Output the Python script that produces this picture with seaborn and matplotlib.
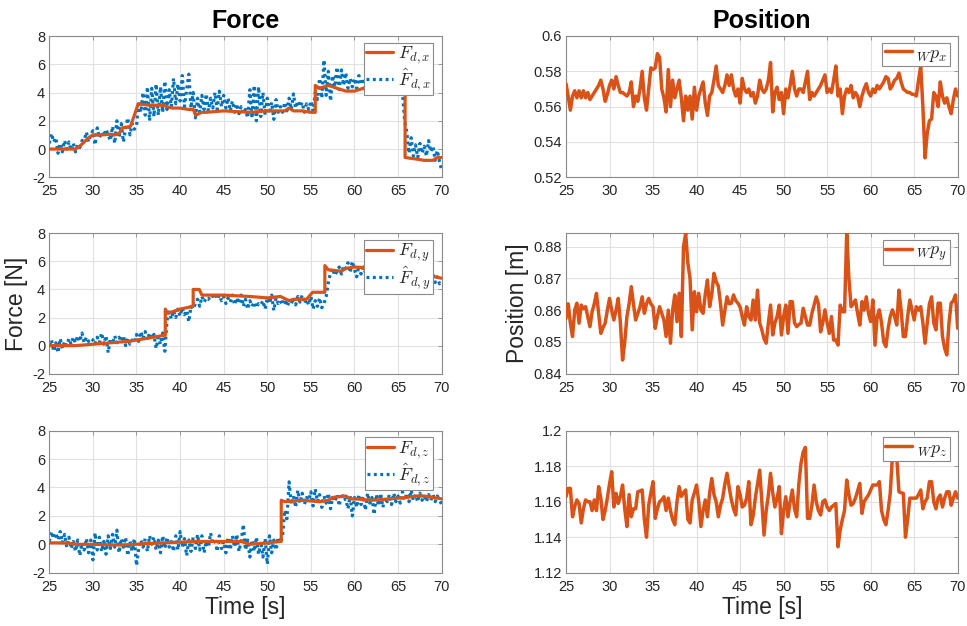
import numpy as np
import pandas as pd
import matplotlib
matplotlib.use("Agg")
import matplotlib.pyplot as plt
import seaborn as sns
from matplotlib.ticker import FuncFormatter

# ---------------- data ----------------
T_START = 25.0
T_STEP = 0.25  # sampling of the read-off noisy / position series

fx_hat = [0.4, 1.1, 0.5, 0.8, -0.3, 0.4, -0.2, 0.6, 0.0, 0.5, -0.1, 0.4,
          -0.2, 0.3, 0.1, 0.6, 0.6, 1.2, 0.5, 1.0, 1.3, 0.3, 1.5, 0.8,
          1.2, 0.9, 1.4, 1.0, 0.6, 1.6, 0.4, 2.0, 0.8, 1.8, 0.5, 1.5,
          2.2, 1.0, 1.8, 1.4, 1.6, 3.4, 2.6, 4.0, 2.4, 4.4, 2.0, 4.3,
          2.3, 4.6, 2.4, 4.4, 2.6, 4.8, 2.8, 4.2, 3.0, 5.0, 3.2, 4.6,
          3.4, 5.2, 3.0, 4.2, 5.3, 2.9, 4.0, 2.2, 3.6, 2.6, 3.8, 2.8,
          3.9, 2.7, 3.6, 2.9, 4.0, 2.8, 4.1, 3.0, 3.8, 2.9, 3.6, 2.7,
          3.4, 2.6, 3.2, 2.5, 3.0, 2.5, 2.8, 2.2, 4.2, 2.2, 4.5, 2.0,
          4.4, 2.3, 4.0, 2.4, 3.6, 2.5, 3.3, 2.1, 3.5, 2.6, 3.0, 2.6,
          3.3, 2.7, 3.6, 2.8, 3.9, 2.9, 3.4, 3.0, 3.3, 2.6, 3.2, 2.8,
          3.4, 2.7, 4.0, 3.5, 5.0, 3.6, 6.3, 3.8, 5.5, 3.4, 5.2, 4.4,
          5.8, 4.2, 5.6, 4.5, 5.4, 4.3, 5.0, 4.4, 5.0, 4.3, 5.2, 4.6,
          4.8, 4.2, 4.7, 4.3, 4.6, 4.1, 4.5, 4.2, 4.3, 4.0, 4.3, 4.0,
          4.2, 4.0, 4.2, 4.0, 4.1, 4.0, 4.0, 2.0, 1.2, -0.3, 0.8, -0.5,
          0.3, -0.6, 0.4, -0.3, 0.2, -0.5, 0.6, -0.2, 0.2, -0.8, -0.1, -0.9,
          -1.5]

fy_hat = [0.0, 0.4, -0.4, 0.2, -0.5, 0.5, -0.2, 0.3, 0.0, 0.5, 0.1, 0.6,
          0.2, 0.7, 0.3, 0.9, 0.2, 0.6, 0.3, 0.5, 0.4, 0.1, 0.6, 0.2,
          0.9, 0.1, 0.7, -0.5, 0.5, 0.1, 0.7, 0.2, 0.6, 0.3, 0.7, 0.0,
          0.5, 0.1, 0.4, 0.2, 0.8, 0.3, 1.0, 0.5, 1.0, 0.4, 0.9, 0.5,
          0.8, -0.2, 0.6, 0.1, 0.9, -0.4, 1.8, 2.4, 1.9, 2.5, 2.0, 2.6,
          2.1, 2.7, 2.2, 2.5, 1.7, 2.8, 2.6, 3.0, 3.3, 2.8, 3.5, 3.1,
          3.4, 3.3, 3.6, 3.5, 3.7, 3.3, 3.6, 3.2, 3.5, 3.0, 3.4, 3.1,
          3.6, 2.9, 3.4, 3.0, 3.6, 2.8, 3.3, 2.6, 3.2, 2.8, 3.1, 2.7,
          3.0, 2.9, 3.2, 2.6, 3.4, 3.0, 3.6, 2.5, 3.4, 3.0, 3.2, 2.9,
          3.3, 2.8, 3.1, 3.0, 3.4, 2.9, 3.5, 3.1, 3.6, 3.0, 3.3, 2.9,
          3.5, 2.6, 3.2, 2.8, 3.4, 2.7, 3.0, 3.5, 4.5, 5.2, 5.5, 5.0,
          5.3, 5.6, 5.1, 5.7, 5.5, 5.9, 5.2, 6.0, 5.4, 4.9, 5.7, 5.1,
          5.6, 5.2, 5.5, 5.3, 5.5, 5.2, 5.6, 5.3, 5.4, 5.1, 5.5, 5.2,
          5.3, 5.0, 5.4, 5.1, 5.2, 5.0, 5.3, 4.9, 5.1, 4.8, 5.2, 4.6,
          5.0, 4.5, 5.1, 4.4, 4.8, 4.0, 5.0, 4.3, 5.1, 4.5, 4.9, 4.4,
          4.6]

fz_hat = [0.2, 0.9, 0.4, 0.8, 0.3, 0.9, 0.1, 0.7, -0.2, 0.5, -0.3, 0.2,
          -0.5, 0.3, -0.8, 0.1, -0.4, 0.4, -0.6, 0.3, -1.1, 0.8, -0.4, 0.5,
          -0.5, 0.2, -0.7, 0.6, -0.3, 0.7, -0.2, 1.0, -0.6, 0.4, -0.2, 0.5,
          -0.8, 0.2, -0.5, 0.4, -1.5, -0.3, 0.3, -0.2, 0.4, -0.5, 0.6, 0.0,
          0.5, -0.4, 0.3, -0.6, 0.6, -0.3, 0.5, -0.2, 0.2, -0.5, 0.6, -0.4,
          0.9, -0.2, 0.4, -0.8, 0.3, -0.5, 0.5, -0.3, 0.7, -0.4, 0.6, -0.6,
          0.2, -0.2, 0.8, 0.0, 0.4, -0.5, 0.6, -0.3, 0.2, -0.6, 0.5, -0.4,
          0.6, -0.2, 0.7, -0.5, 0.2, 1.4, -0.4, 0.3, -0.9, 0.3, -0.5, 0.5,
          -0.7, 0.2, -0.9, 0.4, -1.4, 0.6, -0.6, 0.3, -0.4, 0.5, 0.1, 0.6,
          2.4, 1.8, 4.4, 2.8, 3.4, 2.6, 3.8, 2.9, 3.6, 2.8, 3.3, 3.1,
          3.7, 2.7, 3.9, 3.0, 3.5, 2.6, 3.4, 2.9, 3.6, 2.5, 3.3, 3.0,
          3.5, 2.7, 3.6, 3.1, 3.2, 2.5, 3.4, 2.0, 3.3, 2.6, 3.5, 2.8,
          3.4, 2.4, 3.6, 2.9, 3.3, 2.1, 3.5, 2.7, 3.6, 2.6, 3.3, 3.0,
          3.5, 2.8, 3.6, 3.0, 3.4, 2.9, 3.7, 3.1, 3.6, 3.0, 3.8, 3.1,
          3.5, 3.0, 3.6, 3.1, 3.4, 3.0, 3.5, 3.1, 3.5, 3.0, 3.4, 3.1,
          2.8]

# desired forces: breakpoints (time, value)
fx_t = [25, 28, 28.5, 29, 29.5, 30, 31, 32, 32.5, 33, 33.4, 34.3, 34.7, 35.2,
        36.5, 38, 39, 40, 41, 41.5, 41.8, 42.5, 43, 45, 48, 50, 52, 52.5, 53,
        54, 55, 55.5, 55.5, 56, 57, 58, 59, 60, 61, 61.5, 63, 65.8, 65.8, 67,
        68, 69, 69.5, 70]
fx_d = [0, 0, 0.2, 0.5, 0.8, 1.0, 1.0, 1.05, 1.0, 1.1, 1.5, 1.6, 2.3, 3.2,
        3.1, 3.1, 2.9, 2.9, 2.8, 2.8, 2.4, 2.6, 2.6, 2.7, 2.6, 2.7, 2.7, 2.9,
        2.7, 2.7, 2.6, 2.6, 4.5, 4.3, 4.5, 4.3, 4.1, 4.1, 4.3, 4.1, 4.0, 4.0,
        -0.6, -0.7, -0.8, -0.8, -0.6, -0.6]

fy_t = [25, 28, 31, 34, 36, 38.3, 38.3, 38.6, 40, 41.5, 41.5, 42.2, 42.5, 45,
        48, 50, 51.5, 52.5, 53, 54.5, 55.2, 56.6, 56.6, 57, 58.5, 59, 60, 62,
        66, 70]
fy_d = [0, 0, 0.15, 0.3, 0.5, 0.75, 2.6, 2.3, 2.6, 2.8, 4.0, 4.0, 3.6, 3.6,
        3.5, 3.4, 3.5, 3.2, 3.3, 3.3, 3.8, 3.8, 5.7, 5.4, 5.3, 5.5, 5.6, 5.5,
        5.3, 4.8]

fz_t = [25, 27, 28, 30, 33, 35, 36, 38, 40, 42, 45, 47, 48, 50, 51.6, 51.6,
        52, 54, 56, 57, 57.5, 59, 59.5, 60, 62, 64, 66, 67, 68, 70]
fz_d = [0.1, 0.1, 0.0, 0.0, -0.05, 0.0, 0.05, 0.1, 0.15, 0.2, 0.2, 0.2, 0.0,
        0.1, 0.2, 3.1, 3.0, 3.1, 3.0, 3.1, 3.3, 3.4, 3.2, 3.2, 3.1, 3.2, 3.3,
        3.4, 3.4, 3.2]

px = [.573, .566, .558, .566, .569, .565, .569, .565, .569, .565, .568, .564,
      .566, .568, .570, .572, .575, .570, .563, .567, .572, .575, .570, .577,
      .572, .568, .568, .567, .566, .568, .574, .560, .566, .563, .570, .580,
      .565, .558, .570, .582, .581, .582, .590, .588, .570, .565, .557, .581,
      .560, .575, .565, .570, .575, .565, .552, .566, .558, .566, .553, .571,
      .558, .566, .570, .574, .562, .555, .566, .568, .575, .583, .572, .570,
      .568, .572, .578, .572, .578, .570, .566, .570, .562, .576, .570, .568,
      .570, .566, .568, .562, .566, .575, .570, .568, .570, .575, .585, .557,
      .568, .571, .564, .568, .556, .570, .565, .572, .580, .570, .566, .570,
      .570, .568, .574, .580, .564, .568, .566, .568, .570, .572, .575, .578,
      .568, .570, .568, .575, .583, .566, .570, .556, .566, .570, .568, .572,
      .565, .568, .566, .560, .566, .570, .573, .568, .566, .570, .568, .572,
      .570, .572, .574, .577, .576, .570, .572, .575, .576, .579, .574, .570,
      .569, .568, .568, .567, .567, .566, .575, .583, .560, .531, .545, .552,
      .553, .568, .566, .560, .574, .566, .562, .565, .560, .556, .564, .570,
      .566]

py = [.8574, .8620, .8560, .8517, .8600, .8622, .8559, .8616, .8605, .8611,
      .8580, .8548, .8595, .8620, .8653, .8590, .8527, .8545, .8559, .8600,
      .8637, .8600, .8569, .8600, .8637, .8560, .8443, .8500, .8580, .8620,
      .8674, .8620, .8569, .8590, .8610, .8642, .8590, .8620, .8637, .8620,
      .8611, .8543, .8580, .8611, .8590, .8569, .8517, .8600, .8496, .8600,
      .8648, .8564, .8653, .8517, .8800, .8842, .8748, .8700, .8538, .8658,
      .8595, .8653, .8600, .8590, .8650, .8695, .8611, .8650, .8716, .8690,
      .8676, .8620, .8553, .8600, .8642, .8620, .8622, .8648, .8630, .8622,
      .8610, .8580, .8553, .8611, .8580, .8569, .8632, .8569, .8663, .8560,
      .8538, .8510, .8496, .8560, .8616, .8522, .8560, .8580, .8616, .8522,
      .8580, .8616, .8527, .8627, .8627, .8560, .8548, .8555, .8559, .8606,
      .8580, .8553, .8553, .8590, .8616, .8642, .8620, .8532, .8560, .8601,
      .8560, .8527, .8580, .8506, .8506, .8490, .8616, .8595, .8595, .8845,
      .8700, .8611, .8620, .8632, .8590, .8553, .8627, .8600, .8642, .8590,
      .8564, .8632, .8490, .8580, .8601, .8560, .8500, .8485, .8540, .8580,
      .8601, .8580, .8553, .8663, .8600, .8517, .8517, .8580, .8632, .8600,
      .8569, .8611, .8600, .8611, .8560, .8496, .8560, .8620, .8642, .8560,
      .8538, .8622, .8622, .8517, .8480, .8459, .8560, .8622, .8630, .8648,
      .8543]

pz = [1.1628, 1.1675, 1.1675, 1.1515, 1.1572, 1.1610, 1.1590, 1.1480,
      1.1560, 1.1610, 1.1600, 1.1600, 1.1550, 1.1610, 1.1550, 1.1685,
      1.1620, 1.1500, 1.1550, 1.1620, 1.1700, 1.1769, 1.1570, 1.1647,
      1.1590, 1.1630, 1.1694, 1.1560, 1.1460, 1.1640, 1.1515, 1.1560,
      1.1560, 1.1656, 1.1660, 1.1666, 1.1500, 1.1400, 1.1580, 1.1650,
      1.1713, 1.1506, 1.1560, 1.1600, 1.1610, 1.1628, 1.1550, 1.1620,
      1.1550, 1.1500, 1.1470, 1.1600, 1.1685, 1.1630, 1.1650, 1.1666,
      1.1500, 1.1480, 1.1610, 1.1650, 1.1694, 1.1600, 1.1460, 1.1550,
      1.1610, 1.1515, 1.1650, 1.1731, 1.1640, 1.1600, 1.1515, 1.1580,
      1.1620, 1.1700, 1.1760, 1.1680, 1.1610, 1.1560, 1.1525, 1.1685,
      1.1640, 1.1570, 1.1580, 1.1620, 1.1713, 1.1470, 1.1520, 1.1620,
      1.1700, 1.1778, 1.1600, 1.1412, 1.1550, 1.1638, 1.1760, 1.1650,
      1.1570, 1.1620, 1.1685, 1.1420, 1.1550, 1.1628, 1.1515, 1.1600,
      1.1666, 1.1560, 1.1515, 1.1700, 1.1816, 1.1880, 1.1906, 1.1506,
      1.1506, 1.1580, 1.1694, 1.1600, 1.1550, 1.1525, 1.1600, 1.1610,
      1.1570, 1.1550, 1.1570, 1.1580, 1.1590, 1.1346, 1.1440, 1.1500,
      1.1550, 1.1722, 1.1640, 1.1580, 1.1590, 1.1620, 1.1660, 1.1703,
      1.1534, 1.1600, 1.1620, 1.1638, 1.1666, 1.1694, 1.1694, 1.1694,
      1.1713, 1.1550, 1.1500, 1.1470, 1.1550, 1.1647, 1.1854, 1.1854,
      1.1850, 1.1656, 1.1650, 1.1647, 1.1400, 1.1500, 1.1620, 1.1620,
      1.1620, 1.1620, 1.1640, 1.1666, 1.1560, 1.1600, 1.1620, 1.1713,
      1.1713, 1.1600, 1.1560, 1.1620, 1.1638, 1.1570, 1.1620, 1.1656,
      1.1656, 1.1580, 1.1620, 1.1656, 1.1620]

x_ticks = [25, 30, 35, 40, 45, 50, 55, 60, 65, 70]
force_ticks = [-2, 0, 2, 4, 6, 8]
px_ticks = [0.52, 0.54, 0.56, 0.58, 0.60]
py_ticks = [0.84, 0.85, 0.86, 0.87, 0.88]
pz_ticks = [1.12, 1.14, 1.16, 1.18, 1.20]
axes_names = ["x", "y", "z"]

# ---------------- style ----------------
sns.set_theme(style="white")
plt.rcParams["font.family"] = ["Liberation Sans", "DejaVu Sans"]
plt.rcParams["mathtext.fontset"] = "cm"

ORANGE = "#D95319"
BLUE = "#0072BD"
SPINE = "#8a8a8a"
GRID = "#e1e1e1"
TXT = "#262626"

fig = plt.figure(figsize=(9.67, 6.26), dpi=100)
W = 967.0
H = 626.0
rows_px = [(36.0, 177.3), (233.3, 373.7), (430.7, 572.7)]
cols_px = [(49.3, 441.7), (566.0, 957.7)]


def make_ax(r, c):
    top, bot = rows_px[r]
    lft, rgt = cols_px[c]
    return fig.add_axes([lft / W, 1 - bot / H, (rgt - lft) / W, (bot - top) / H])


def style_ax(ax, yticks, ylim):
    ax.set_xlim(25, 70)
    ax.set_ylim(*ylim)
    ax.set_xticks(x_ticks)
    ax.set_yticks(yticks)
    ax.yaxis.set_major_formatter(FuncFormatter(lambda v, p: f"{v:g}"))
    ax.grid(True, color=GRID, lw=0.8)
    ax.set_axisbelow(True)
    for s in ax.spines.values():
        s.set_color(SPINE)
        s.set_linewidth(0.8)
        s.set_visible(True)
    ax.tick_params(direction="in", length=3, width=0.6, color=SPINE,
                   top=True, right=True, labelsize=10.5, labelcolor=TXT)
    ax.tick_params(axis="x", pad=5)
    ax.tick_params(axis="y", pad=3)
    ax.set_xlabel("")
    ax.set_ylabel("")


def sample_times(n):
    return T_START + T_STEP * np.arange(n)


force_hat = [fx_hat, fy_hat, fz_hat]
force_t = [fx_t, fy_t, fz_t]
force_d = [fx_d, fy_d, fz_d]
positions = [px, py, pz]
pos_ticks = [px_ticks, py_ticks, pz_ticks]
pos_lims = [(0.52, 0.60), (0.84, 0.8842), (1.12, 1.20)]

LEG_KW = dict(loc="upper right", fontsize=13, handlelength=1.5,
              handletextpad=0.25, borderpad=0.12, labelspacing=0.0,
              borderaxespad=0.0, fancybox=False, framealpha=1.0,
              edgecolor=SPINE)

for r in range(3):
    # ---- force ----
    ax = make_ax(r, 0)
    n = axes_names[r]
    df_d = pd.DataFrame({"t": force_t[r], "v": force_d[r]})
    df_h = pd.DataFrame({"t": sample_times(len(force_hat[r])), "v": force_hat[r]})
    sns.lineplot(data=df_d, x="t", y="v", ax=ax, color=ORANGE, lw=2.3,
                 estimator=None, sort=False, zorder=3)
    sns.lineplot(data=df_h, x="t", y="v", ax=ax, color=BLUE, lw=2.3,
                 estimator=None, sort=False, zorder=2)
    l_d, l_h = ax.lines[0], ax.lines[1]
    l_h.set_dashes((0.9, 1.1))
    l_h.set_dash_capstyle("butt")
    style_ax(ax, force_ticks, (-2, 8))
    leg = ax.legend([l_d, l_h], [rf"$F_{{d,{n}}}$", rf"$\hat{{F}}_{{d,{n}}}$"],
                    bbox_to_anchor=(0.978, 0.953), **LEG_KW)
    leg.get_frame().set_linewidth(0.8)
    leg.set_zorder(5)
    if r == 0:
        ax.set_title("Force", fontsize=18, fontweight="bold", pad=6, color="black")
    if r == 1:
        ax.set_ylabel("Force [N]", fontsize=16.5, color=TXT, labelpad=3)
    if r == 2:
        ax.set_xlabel("Time [s]", fontsize=16.5, color=TXT, labelpad=2)

    # ---- position ----
    ax = make_ax(r, 1)
    df_p = pd.DataFrame({"t": sample_times(len(positions[r])), "v": positions[r]})
    sns.lineplot(data=df_p, x="t", y="v", ax=ax, color=ORANGE, lw=2.5,
                 estimator=None, sort=False, zorder=3)
    style_ax(ax, pos_ticks[r], pos_lims[r])
    leg = ax.legend([ax.lines[0]], [rf"${{}}_{{W}}p_{n}$"],
                    bbox_to_anchor=(0.980, 0.953), **LEG_KW)
    leg.get_frame().set_linewidth(0.8)
    leg.set_zorder(5)
    if r == 0:
        ax.set_title("Position", fontsize=18, fontweight="bold", pad=6, color="black")
    if r == 1:
        ax.set_ylabel("Position [m]", fontsize=16.5, color=TXT, labelpad=3)
    if r == 2:
        ax.set_xlabel("Time [s]", fontsize=16.5, color=TXT, labelpad=2)

fig.savefig("out.png", dpi=100)
